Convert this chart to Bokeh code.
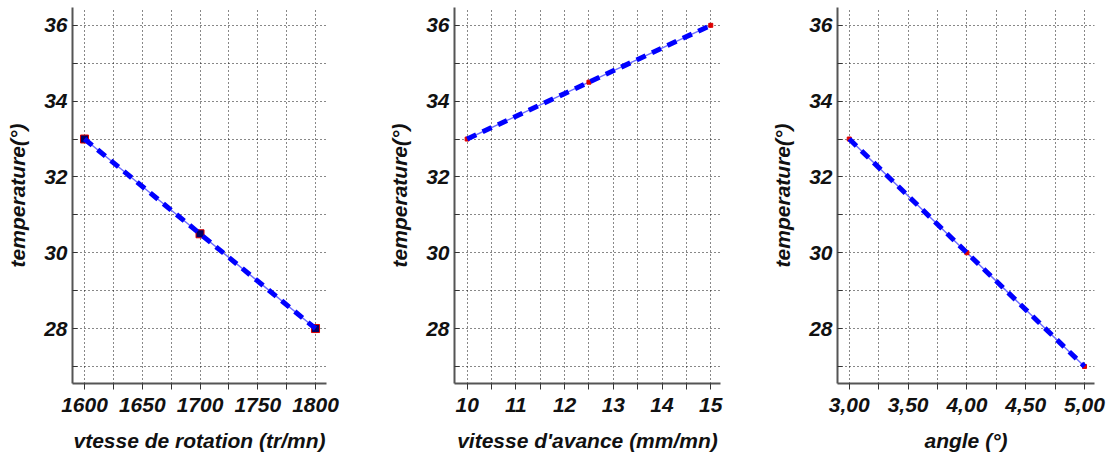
from bokeh.plotting import figure
from bokeh.layouts import row
from bokeh.models import Range1d, FixedTicker
from bokeh.embed import file_html
from bokeh.resources import INLINE

# data
rot_speed = [1600, 1700, 1800]
rot_temp = [33.0, 30.5, 28.0]
feed_speed = [10, 12.5, 15]
feed_temp = [33.0, 34.5, 36.0]
angle = [3.0, 4.0, 5.0]
angle_temp = [33.0, 30.0, 27.0]

y_major = [28, 30, 32, 34, 36]
y_minor = [27, 29, 31, 33, 35]

x1_major = [1600, 1650, 1700, 1750, 1800]
x1_minor = [1625, 1675, 1725, 1775]
x2_major = [10, 11, 12, 13, 14, 15]
x2_minor = [10.5, 11.5, 12.5, 13.5, 14.5]
x3_major = [3.0, 3.5, 4.0, 4.5, 5.0]
x3_minor = [3.25, 3.75, 4.25, 4.75]
x3_labels = ["3,00", "3,50", "4,00", "4,50", "5,00"]

xlabels = ["vtesse de rotation (tr/mn)", "vitesse d'avance (mm/mn)", "angle (°)"]
ylabel = "temperature(°)"

FONT = "Liberation Sans"
TXT = "#111111"


def make(xs, ys, xr, xmaj, xmin, xlabel, left, plotw, square_marker, overrides=None):
    p = figure(width=370, height=456,
               x_range=Range1d(*xr), y_range=Range1d(26.55, 36.47),
               output_backend="svg", toolbar_location=None,
               min_border_left=left, min_border_right=370 - left - plotw,
               min_border_top=7, min_border_bottom=73)
    p.outline_line_color = None
    p.background_fill_color = "white"
    p.border_fill_color = "white"

    p.xaxis.ticker = FixedTicker(ticks=xmaj, minor_ticks=xmin)
    p.yaxis.ticker = FixedTicker(ticks=y_major, minor_ticks=y_minor)
    if overrides:
        p.xaxis.major_label_overrides = overrides

    for g in (p.xgrid, p.ygrid):
        g.grid_line_color = "#111111"
        g.grid_line_dash = "1 3"
        g.grid_line_width = 1
        g.minor_grid_line_color = "#111111"
        g.minor_grid_line_dash = "1 3"
        g.minor_grid_line_width = 1

    for ax in (p.xaxis, p.yaxis):
        ax.axis_line_color = "#555555"
        ax.axis_line_width = 2
        ax.major_tick_line_color = "#333333"
        ax.minor_tick_line_color = "#333333"
        ax.major_label_text_font = FONT
        ax.major_label_text_font_style = "bold italic"
        ax.major_label_text_font_size = "21px"
        ax.major_label_text_color = TXT
        ax.axis_label_text_font = FONT
        ax.axis_label_text_font_style = "bold italic"
        ax.axis_label_text_font_size = "21px"
        ax.axis_label_text_color = TXT

    p.xaxis.major_tick_out = 6
    p.xaxis.major_tick_in = 0
    p.xaxis.minor_tick_out = 6
    p.xaxis.minor_tick_in = 0
    p.xaxis.major_label_standoff = 8
    p.xaxis.axis_label_standoff = 14
    p.xaxis.axis_label = xlabel

    p.yaxis.major_tick_out = 0
    p.yaxis.major_tick_in = 5
    p.yaxis.minor_tick_out = 0
    p.yaxis.minor_tick_in = 5
    p.yaxis.major_label_standoff = 5
    p.yaxis.axis_label_standoff = 12
    p.yaxis.axis_label = ylabel

    # thin underlying fit line
    p.line(xs, ys, line_color="#6f6fff", line_width=1.5)
    # data markers
    if square_marker:
        p.scatter(xs, ys, marker="square", size=8, fill_color="#000066",
                  line_color="#dd0000", line_width=1)
    else:
        p.scatter(xs, ys, marker="square", size=4, fill_color="#dd0000",
                  line_color="#dd0000")
    # thick dashed blue line
    p.line(xs, ys, line_color="#0000ff", line_width=5, line_dash="10 7")
    return p


p1 = make(rot_speed, rot_temp, (1589.6, 1809.5), x1_major, x1_minor,
          xlabels[0], 72, 254, True)
p2 = make(feed_speed, feed_temp, (9.74, 15.2), x2_major, x2_minor,
          xlabels[1], 84, 266, False)
p3 = make(angle, angle_temp, (2.90, 5.085), x3_major, x3_minor,
          xlabels[2], 97, 257, False,
          overrides={t: l for t, l in zip(x3_major, x3_labels)})

layout = row(p1, p2, p3)
open("out.html", "w").write(file_html(layout, INLINE))
